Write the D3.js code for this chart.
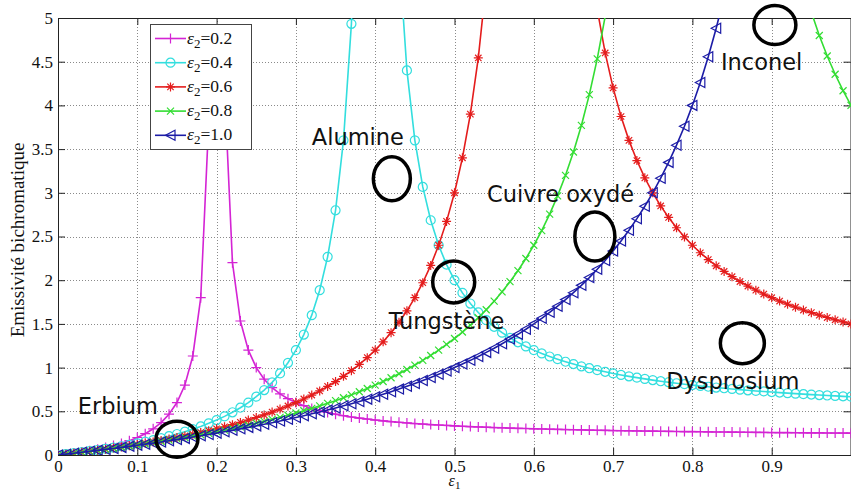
<!DOCTYPE html>
<html><head><meta charset="utf-8">
<script src="https://cdn.jsdelivr.net/npm/d3@7"></script>
<style>
html,body{margin:0;padding:0;background:#fff;}
svg{display:block;}
</style></head>
<body>
<svg id="chart" width="851" height="493"></svg>
<script>
// ---- data ----
const eps1 = [0,0.01,0.02,0.03,0.04,0.05,0.06,0.07,0.08,0.09,
0.10,0.11,0.12,0.13,0.14,0.15,0.16,0.17,0.18,0.19,
0.20,0.21,0.22,0.23,0.24,0.25,0.26,0.27,0.28,0.29,
0.30,0.31,0.32,0.33,0.34,0.35,0.36,0.37,0.38,0.39,
0.40,0.41,0.42,0.43,0.44,0.45,0.46,0.47,0.48,0.49,
0.50,0.51,0.52,0.53,0.54,0.55,0.56,0.57,0.58,0.59,
0.60,0.61,0.62,0.63,0.64,0.65,0.66,0.67,0.68,0.69,
0.70,0.71,0.72,0.73,0.74,0.75,0.76,0.77,0.78,0.79,
0.80,0.81,0.82,0.83,0.84,0.85,0.86,0.87,0.88,0.89,
0.90,0.91,0.92,0.93,0.94,0.95,0.96,0.97,0.98,0.99,1.00];

const eps2_02 = [0,0.011,0.022,0.035,0.05,0.067,0.086,0.108,0.133,0.164,
0.2,0.244,0.3,0.371,0.467,0.6,0.8,1.133,1.8,3.8,
null,4.2,2.2,1.533,1.2,1.0,0.867,0.771,0.7,0.644,
0.6,0.564,0.533,0.508,0.486,0.467,0.45,0.435,0.422,0.411,
0.4,0.39,0.382,0.374,0.367,0.36,0.354,0.348,0.343,0.338,
0.333,0.329,0.325,0.321,0.318,0.314,0.311,0.308,0.305,0.303,
0.3,0.298,0.295,0.293,0.291,0.289,0.287,0.285,0.283,0.282,
0.28,0.278,0.277,0.275,0.274,0.273,0.271,0.27,0.269,0.268,
0.267,0.266,0.265,0.263,0.263,0.262,0.261,0.26,0.259,0.258,
0.257,0.256,0.256,0.255,0.254,0.253,0.253,0.252,0.251,0.251,0.25];

const eps2_04 = [0,0.01,0.021,0.032,0.044,0.057,0.071,0.085,0.1,0.116,
0.133,0.152,0.171,0.193,0.215,0.24,0.267,0.296,0.327,0.362,
0.4,0.442,0.489,0.541,0.6,0.667,0.743,0.831,0.933,1.055,
1.2,1.378,1.6,1.886,2.267,2.8,3.6,4.933,7.6,15.6,
null,16.4,8.4,5.733,4.4,3.6,3.067,2.686,2.4,2.178,
2.0,1.855,1.733,1.631,1.543,1.467,1.4,1.341,1.289,1.242,
1.2,1.162,1.127,1.096,1.067,1.04,1.015,0.993,0.971,0.952,
0.933,0.916,0.9,0.885,0.871,0.857,0.844,0.832,0.821,0.81,
0.8,0.79,0.781,0.772,0.764,0.756,0.748,0.74,0.733,0.727,
0.72,0.714,0.708,0.702,0.696,0.691,0.686,0.681,0.676,0.671,0.667];

const eps2_06 = [0,0.01,0.021,0.032,0.043,0.055,0.067,0.079,0.092,0.106,
0.12,0.135,0.15,0.166,0.183,0.2,0.218,0.237,0.257,0.278,
0.3,0.323,0.347,0.373,0.4,0.429,0.459,0.491,0.525,0.561,
0.6,0.641,0.686,0.733,0.785,0.84,0.9,0.965,1.036,1.114,
1.2,1.295,1.4,1.518,1.65,1.8,1.971,2.169,2.4,2.673,
3.0,3.4,3.9,4.543,5.4,6.6,8.4,11.4,17.4,35.4,
null,36.6,18.6,12.6,9.6,7.8,6.6,5.743,5.1,4.6,
4.2,3.873,3.6,3.369,3.171,3.0,2.85,2.718,2.6,2.495,
2.4,2.314,2.236,2.165,2.1,2.04,1.985,1.933,1.886,1.841,
1.8,1.761,1.725,1.691,1.659,1.629,1.6,1.573,1.547,1.523,1.5];

const eps2_08 = [0,0.01,0.021,0.031,0.042,0.053,0.065,0.077,0.089,0.101,
0.114,0.128,0.141,0.155,0.17,0.185,0.2,0.216,0.232,0.249,
0.267,0.285,0.303,0.323,0.343,0.364,0.385,0.408,0.431,0.455,
0.48,0.506,0.533,0.562,0.591,0.622,0.655,0.688,0.724,0.761,
0.8,0.841,0.884,0.93,0.978,1.029,1.082,1.139,1.2,1.265,
1.333,1.407,1.486,1.57,1.662,1.76,1.867,1.983,2.109,2.248,
2.4,2.568,2.756,2.965,3.2,3.467,3.771,4.123,4.533,5.018,
5.6,6.311,7.2,8.343,9.867,12,15.2,20.533,31.2,63.2,
null,64.8,32.8,22.133,16.8,13.6,11.467,9.943,8.8,7.911,
7.2,6.618,6.133,5.723,5.371,5.067,4.8,4.565,4.356,4.168,4.0];

const eps2_10 = [0,0.01,0.02,0.031,0.042,0.053,0.064,0.075,0.087,0.099,
0.111,0.124,0.136,0.149,0.163,0.176,0.19,0.205,0.22,0.235,
0.25,0.266,0.282,0.299,0.316,0.333,0.351,0.37,0.389,0.408,
0.429,0.449,0.471,0.493,0.515,0.538,0.563,0.587,0.613,0.639,
0.667,0.695,0.724,0.754,0.786,0.818,0.852,0.887,0.923,0.961,
1.0,1.041,1.083,1.128,1.174,1.222,1.273,1.326,1.381,1.439,
1.5,1.564,1.632,1.703,1.778,1.857,1.941,2.03,2.125,2.226,
2.333,2.448,2.571,2.704,2.846,3.0,3.167,3.348,3.545,3.762,
4.0,4.263,4.556,4.882,5.25,5.667,6.143,6.692,7.333,8.091,
9.0,10.111,11.5,13.286,15.667,19,24,32.333,49,99,null];

const seriesLabels = ["0.2","0.4","0.6","0.8","1.0"];
const seriesValues = [eps2_02, eps2_04, eps2_06, eps2_08, eps2_10];
const seriesColors = ["#d424d4","#33dede","#e41c1c","#33dd33","#1c1ca6"];
const seriesMarkers = ["plus","circle","star","cross","triangleLeft"];

const xTickValues = [0,0.1,0.2,0.3,0.4,0.5,0.6,0.7,0.8,0.9];
const xTickLabels = ["0","0.1","0.2","0.3","0.4","0.5","0.6","0.7","0.8","0.9"];
const yTickValues = [0,0.5,1,1.5,2,2.5,3,3.5,4,4.5,5];
const yTickLabels = ["0","0.5","1","1.5","2","2.5","3","3.5","4","4.5","5"];

const annotations = [
  {text:"Erbium", x:0.025, y:0.47},
  {text:"Alumine", x:0.32, y:3.55},
  {text:"Cuivre oxydé", x:0.541, y:2.9},
  {text:"Tungstène", x:0.417, y:1.44},
  {text:"Inconel", x:0.836, y:4.4},
  {text:"Dysprosium", x:0.767, y:0.75}
];
const circles = [
  {x:0.150, y:0.18, rx:21, ry:18},
  {x:0.421, y:3.16, rx:18.5, ry:22},
  {x:0.499, y:1.98, rx:21, ry:21},
  {x:0.677, y:2.50, rx:20, ry:24.5},
  {x:0.904, y:4.92, rx:21, ry:19.5},
  {x:0.863, y:1.28, rx:22, ry:20.5}
];

// ---- chart ----
const svg = d3.select("#chart");
const L=58, R=851, T=18, B=455;
const x = d3.scaleLinear().domain([0,1]).range([L,R]);
const y = d3.scaleLinear().domain([0,5]).range([B,T]);
const serif = "'Liberation Serif','Times New Roman',serif";

svg.append("defs").append("clipPath").attr("id","clip")
  .append("rect").attr("x",L).attr("y",T).attr("width",R-L).attr("height",B-T);

// grid
const grid = svg.append("g").attr("stroke","#8a8a8a").attr("stroke-width",1).attr("stroke-dasharray","1,2");
xTickValues.filter(v=>v>0).forEach(v=>{
  grid.append("line").attr("x1",Math.round(x(v))+0.5).attr("x2",Math.round(x(v))+0.5).attr("y1",T).attr("y2",B);
});
yTickValues.filter(v=>v>0 && v<5).forEach(v=>{
  grid.append("line").attr("y1",Math.round(y(v))+0.5).attr("y2",Math.round(y(v))+0.5).attr("x1",L).attr("x2",R);
});

// axes
function styleAxis(g){
  g.select(".domain").attr("stroke","#222");
  g.selectAll(".tick line").attr("stroke","#222");
  g.selectAll("text").attr("font-family",serif).attr("font-size","17px").attr("fill","#111");
}
svg.append("g").attr("transform",`translate(0,${B})`)
  .call(d3.axisBottom(x).tickValues(xTickValues).tickFormat((d,i)=>xTickLabels[i]).tickSize(-7).tickSizeOuter(0).tickPadding(5))
  .call(styleAxis);
svg.append("g").attr("transform",`translate(0,${T})`)
  .call(d3.axisTop(x).tickValues(xTickValues).tickFormat("").tickSize(-7).tickSizeOuter(0))
  .call(styleAxis);
svg.append("g").attr("transform",`translate(${L},0)`)
  .call(d3.axisLeft(y).tickValues(yTickValues).tickFormat((d,i)=>yTickLabels[i]).tickSize(-7).tickSizeOuter(0).tickPadding(5))
  .call(styleAxis);
svg.append("g").attr("transform",`translate(${R-0.5},0)`)
  .call(d3.axisRight(y).tickValues(yTickValues).tickFormat("").tickSize(-7).tickSizeOuter(0))
  .call(styleAxis);

// axis labels
svg.append("text").attr("transform","translate(24,240) rotate(-90)")
  .attr("text-anchor","middle").attr("font-family",serif).attr("font-size","19px").attr("fill","#111")
  .text("Emissivité bichromatique");
const xl = svg.append("text").attr("x",x(0.5)).attr("y",486).attr("text-anchor","middle")
  .attr("font-family",serif).attr("font-size","16px").attr("fill","#111");
xl.append("tspan").attr("font-style","italic").text("ε");
xl.append("tspan").attr("font-size","11px").attr("dy",3).text("1");

// marker paths
function markerPath(type){
  switch(type){
    case "plus": return "M-5,0H5M0,-5V5";
    case "circle": return d3.symbol(d3.symbolCircle, 64)();
    case "star": return "M-4.5,0H4.5M0,-4.5V4.5M-3.2,-3.2L3.2,3.2M-3.2,3.2L3.2,-3.2";
    case "cross": return "M-3.5,-3.5L3.5,3.5M-3.5,3.5L3.5,-3.5";
    case "triangleLeft": return "M-5,0L4.5,-5L4.5,5Z";
  }
}

const plot = svg.append("g").attr("clip-path","url(#clip)");
const line = d3.line().defined(d=>d.v!=null).x(d=>x(d.e)).y(d=>y(d.v));

seriesValues.forEach((vals,si)=>{
  const pts = eps1.map((e,i)=>({e, v: vals[i]}));
  const col = seriesColors[si];
  plot.append("path").datum(pts).attr("d",line)
    .attr("fill","none").attr("stroke",col).attr("stroke-width",1.6);
  plot.append("g").selectAll("path").data(pts.filter(d=>d.v!=null && d.v<=5))
    .join("path").attr("transform",d=>`translate(${x(d.e)},${y(d.v)})`)
    .attr("d",markerPath(seriesMarkers[si]))
    .attr("fill","none").attr("stroke",col).attr("stroke-width",1.2);
});

// legend
const lg = svg.append("g");
lg.append("rect").attr("x",150.5).attr("y",24.5).attr("width",101).attr("height",125)
  .attr("fill","#fff").attr("stroke","#444").attr("stroke-width",1);
seriesLabels.forEach((lab,i)=>{
  const cy = 38.5 + i*24.2;
  lg.append("line").attr("x1",155).attr("x2",186).attr("y1",cy).attr("y2",cy)
    .attr("stroke",seriesColors[i]).attr("stroke-width",1.6);
  lg.append("path").attr("transform",`translate(170.5,${cy})`).attr("d",markerPath(seriesMarkers[i]))
    .attr("fill","none").attr("stroke",seriesColors[i]).attr("stroke-width",1.2);
  const t = lg.append("text").attr("x",187).attr("y",cy+5).attr("font-family",serif)
    .attr("font-size","17.5px").attr("fill","#111");
  t.append("tspan").attr("font-style","italic").text("ε");
  t.append("tspan").attr("font-size","13px").attr("dy",4).text("2");
  t.append("tspan").attr("dy",-4).text("=" + lab);
});

// annotations
const ann = svg.append("g");
circles.forEach(c=>{
  ann.append("ellipse").attr("cx",x(c.x)).attr("cy",y(c.y)).attr("rx",c.rx).attr("ry",c.ry)
    .attr("fill","none").attr("stroke","#000").attr("stroke-width",3.5);
});
annotations.forEach(a=>{
  ann.append("text").attr("x",x(a.x)).attr("y",y(a.y))
    .attr("font-family","'DejaVu Sans',sans-serif").attr("font-size","22.5px").attr("fill","#111")
    .text(a.text);
});
</script>
</body></html>
